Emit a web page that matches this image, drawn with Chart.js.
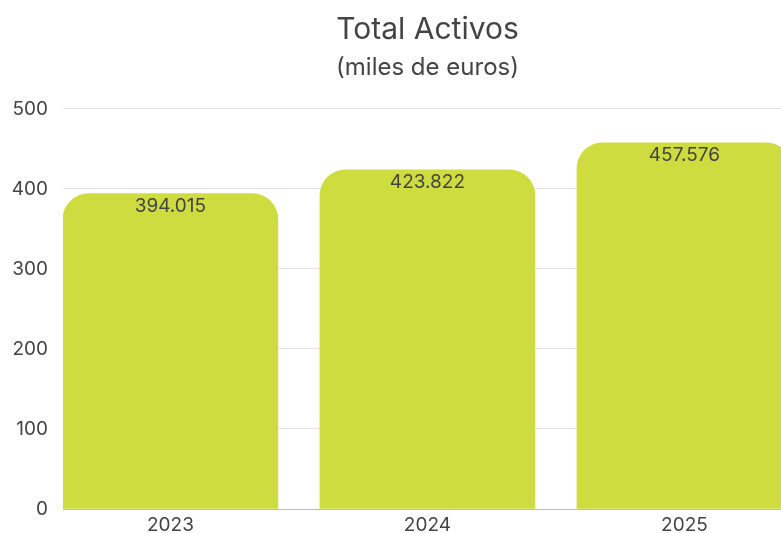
<!DOCTYPE html>
<html>
<head>
<meta charset="utf-8">
<script src="https://cdn.jsdelivr.net/npm/chart.js@4.4.1/dist/chart.umd.min.js"></script>
<style>
  html, body { margin: 0; padding: 0; background: #fff; overflow: hidden; }
  #wrap { width: 855px; height: 533px; }
</style>
</head>
<body>
<div id="wrap"><canvas id="activosChart" width="855" height="533"></canvas></div>
<script>
const years = ['2023', '2024', '2025'];
const totalActivos = [394.015, 423.822, 457.576];
const yTicks = [0, 100, 200, 300, 400, 500];

const FONT = 'Inter, "Noto Sans", sans-serif';
const TEXT = '#444';
const BAR = '#cfdc3f';

// value labels inside the top of each bar
const valueLabels = {
  id: 'valueLabels',
  afterDatasetsDraw(chart) {
    const { ctx } = chart;
    const meta = chart.getDatasetMeta(0);
    ctx.save();
    ctx.font = `19px ${FONT}`;
    ctx.fillStyle = TEXT;
    ctx.textAlign = 'center';
    ctx.textBaseline = 'middle';
    meta.data.forEach((bar, i) => {
      ctx.fillText(totalActivos[i].toFixed(3), bar.x, bar.y + 13);
    });
    ctx.restore();
  },
};

new Chart(document.getElementById('activosChart'), {
  type: 'bar',
  data: {
    datasets: [{
      data: totalActivos.map((v, i) => ({ x: i, y: v })),
      backgroundColor: BAR,
      borderRadius: 26,
      barThickness: 215,
    }],
  },
  options: {
    responsive: false,
    animation: false,
    layout: { padding: { left: 12, right: 12, top: 0, bottom: 0 } },
    plugins: {
      legend: { display: false },
      tooltip: { enabled: false },
      title: {
        display: true,
        text: 'Total Activos',
        color: TEXT,
        font: { family: FONT, size: 30, weight: '400' },
        padding: { top: 12, bottom: 0 },
      },
      subtitle: {
        display: true,
        text: '(miles de euros)',
        color: TEXT,
        font: { family: FONT, size: 24, weight: '400' },
        padding: { top: 5, bottom: 27 },
      },
    },
    scales: {
      x: {
        type: 'linear',
        offset: false,
        min: -0.418,
        max: 2.617,
        grid: { display: false, drawTicks: false, offset: false },
        border: { display: true, color: '#bbb' },
        afterBuildTicks: (axis) => { axis.ticks = years.map((y, i) => ({ value: i })); },
        afterFit: (axis) => { axis.height = 24; },
        ticks: {
          autoSkip: false,
          maxRotation: 0,
          padding: 5,
          color: TEXT,
          font: { family: FONT, size: 19 },
          callback: (v) => years[v] ?? '',
        },
      },
      y: {
        min: 0,
        max: 500,
        grid: { color: '#e3e3e3', drawTicks: true, tickLength: 12, tickColor: 'transparent' },
        border: { display: false },
        afterBuildTicks: (axis) => { axis.ticks = yTicks.map(v => ({ value: v })); },
        afterFit: (axis) => { axis.width = 51; },
        ticks: {
          padding: 3,
          color: TEXT,
          font: { family: FONT, size: 19 },
        },
      },
    },
  },
  plugins: [valueLabels],
});
</script>
</body>
</html>
